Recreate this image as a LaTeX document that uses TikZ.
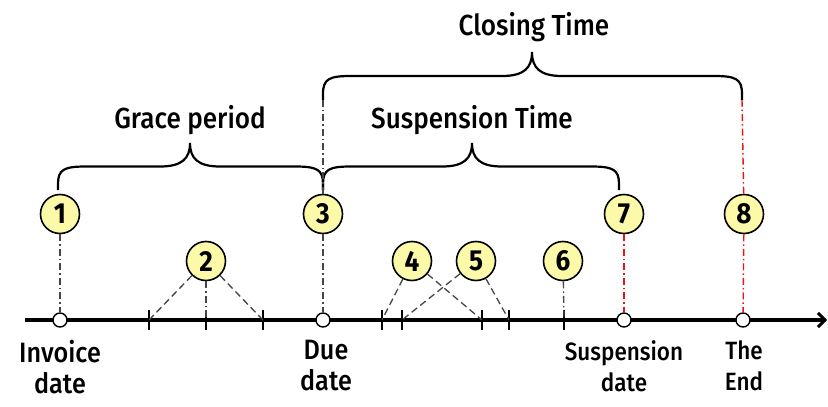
\documentclass[tikz,border=0pt]{standalone}
\usepackage{fontspec}
\setmainfont{Fira Sans Medium}[FakeStretch=0.9,BoldFont={Fira Sans Bold}]
\usetikzlibrary{arrows.meta}
\definecolor{numfill}{RGB}{252,250,168}
\definecolor{dashgray}{RGB}{70,70,70}
\definecolor{dashred}{RGB}{235,20,20}
\tikzset{
  num/.style={circle,draw=black,line width=1.6pt,fill=numfill,minimum size=39pt,inner sep=0pt,font=\fontsize{29}{29}\selectfont\bfseries},
  opendot/.style={circle,draw=black,line width=1.4pt,fill=white,minimum size=14pt,inner sep=0pt},
  tickmark/.style={draw=none,minimum size=0pt,inner sep=0pt},
  guide/.style={draw=dashgray,line width=1.3pt,dash pattern=on 7pt off 3pt on 1.5pt off 3pt},
  guidered/.style={draw=dashred,line width=1.4pt,dash pattern=on 7pt off 3pt on 1.5pt off 3pt},
  slant/.style={draw=dashgray,line width=1.3pt,dash pattern=on 7pt off 4pt},
  bracestyle/.style={draw=black,line width=2.2pt},
  toplabel/.style={font=\fontsize{29}{29}\selectfont},
  botlabel/.style={font=\fontsize{28}{31}\selectfont,align=center,anchor=north},
  botsmall/.style={font=\fontsize{25}{31}\selectfont,align=center,anchor=north},
}
\newcommand\mybrace[5]{% x1 x2 xm ybottom ytip
  \pgfmathsetmacro\ys{(#4+#5)/2}
  \draw[bracestyle] (#1,#4) -- (#1,#4-6) .. controls (#1,\ys+3) and (#1+6,\ys) .. (#1+28,\ys)
    -- (#3-30,\ys) .. controls (#3-8,\ys) and (#3,\ys-8) .. (#3,#5)
    .. controls (#3,\ys-8) and (#3+8,\ys) .. (#3+30,\ys)
    -- (#2-28,\ys) .. controls (#2-6,\ys) and (#2,\ys+3) .. (#2,#4-6) -- (#2,#4);
}
\begin{document}
\begin{tikzpicture}[x=1pt,y=-1pt]
\useasboundingbox (0,0) rectangle (828,407);
% timeline
\coordinate (tl0) at (25,320);
\coordinate (tl1) at (827,320);
\draw[line width=3.2pt,-{Straight Barb[length=7pt,width=14pt,line width=3pt]}] (tl0) -- (tl1);
% ticks
\foreach \n/\x in {a/149,b/206,c/263,d/382,e/402,f/482,g/509,h/564}{
  \node[tickmark] (t\n) at (\x,320) {};
  \draw[line width=2.2pt] (\x,310) -- (\x,330);
}
% open dots
\node[opendot] (d1) at (60,320) {};
\node[opendot] (d3) at (323,320) {};
\node[opendot] (d7) at (624,320) {};
\node[opendot] (d8) at (743,320) {};
% numbered circles
\node[num] (n1) at (60,214) {1};
\node[num] (n2) at (206,261) {2};
\node[num] (n3) at (323,214) {3};
\node[num] (n4) at (412,261) {4};
\node[num] (n5) at (476,261) {5};
\node[num] (n6) at (563,261) {6};
\node[num] (n7) at (624,214) {7};
\node[num] (n8) at (744,214) {8};
% guides
\draw[guide] (n1) -- (d1);
\draw[guide] (n3) -- (d3);
\draw[guide] (n2) -- (tb);
\draw[guide] (n6) -- (th);
\draw[guidered] (n7) -- (d7);
\draw[guidered] (n8) -- (d8);
\draw[slant] (n2) -- (ta);
\draw[slant] (n2) -- (tc);
\draw[slant] (n4) -- (td);
\draw[slant] (n4) -- (tf);
\draw[slant] (n5) -- (te);
\draw[slant] (n5) -- (tg);
% braces
\mybrace{58}{323}{190}{190}{143}
\mybrace{323}{619}{472}{190}{143}
\mybrace{323}{742}{532}{100}{52}
\coordinate (c3top) at (323,100);
\coordinate (c8top) at (742,100);
\draw[guide] (n3) -- (c3top);
\draw[guidered] (n8) -- (c8top);
% labels
\node[toplabel] (lg) at (190,120) {Grace period};
\node[toplabel] (ls) at (472,120) {Suspension Time};
\node[toplabel] (lc) at (534,27) {Closing Time};
\node[botlabel] (li) at (60,337) {Invoice\\date};
\node[botlabel] (ld) at (326,337) {Due\\date};
\node[botsmall] (lsd) at (624,337) {Suspension\\date};
\node[botsmall] (le) at (744,337) {The\\End};
\end{tikzpicture}
\end{document}
